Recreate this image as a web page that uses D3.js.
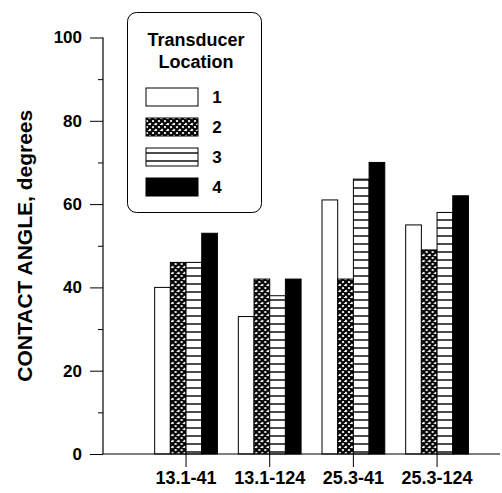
<!DOCTYPE html>
<html>
<head>
<meta charset="utf-8">
<script src="https://cdn.jsdelivr.net/npm/d3@7"></script>
<style>
  body { margin: 0; background: #fff; }
  svg text { font-family: "Liberation Sans", Arial, Helvetica, sans-serif; font-weight: bold; fill: #000; }
</style>
</head>
<body>
<div class="canvas"></div>
<script>
// chart values
const categories = ['13.1-41', '13.1-124', '25.3-41', '25.3-124'];
const locations = ['1', '2', '3', '4'];
const loc1 = [40, 33, 61, 55];
const loc2 = [46, 42, 42, 49];
const loc3 = [46, 38, 66, 58];
const loc4 = [53, 42, 70, 62];
const yTicks = [0, 20, 40, 60, 80, 100];
const yMinorTicks = [10, 30, 50, 70, 90];

const series = [loc1, loc2, loc3, loc4];

const width = 502, height = 493;
const svg = d3.select('.canvas')
  .append('svg')
    .attr('width', width)
    .attr('height', height);

// patterns for the four transducer locations
const defs = svg.append('defs');
const cross = defs.append('pattern')
  .attr('id', 'cross')
  .attr('patternUnits', 'userSpaceOnUse')
  .attr('width', 6).attr('height', 6);
cross.append('rect').attr('width', 6).attr('height', 6).attr('fill', '#fff');
cross.append('path')
  .attr('d', 'M0,0L6,6M6,0L0,6M-1,5L1,7M5,-1L7,1M-1,1L1,-1M5,7L7,5')
  .attr('stroke', '#000').attr('stroke-width', 2.2);

const hlines = defs.append('pattern')
  .attr('id', 'hlines')
  .attr('patternUnits', 'userSpaceOnUse')
  .attr('width', 8).attr('height', 8);
hlines.append('rect').attr('width', 8).attr('height', 8).attr('fill', '#fff');
hlines.append('line')
  .attr('x1', 0).attr('x2', 8).attr('y1', 4).attr('y2', 4)
  .attr('stroke', '#000').attr('stroke-width', 1.4);

const fills = ['#fff', 'url(#cross)', 'url(#hlines)', '#000'];

// scales
const y = d3.scaleLinear()
  .domain([0, 100])
  .range([454, 37.5]);

const x = d3.scaleBand()
  .domain(categories)
  .range([144.2, 478.9])
  .paddingInner(0.25)
  .paddingOuter(0.125);

const x1 = d3.scaleBand()
  .domain(locations)
  .range([0, x.bandwidth()]);

// bars
const groups = svg.append('g')
  .selectAll('g')
  .data(categories)
  .join('g')
    .attr('transform', d => `translate(${x(d)},0)`);

groups.selectAll('rect')
  .data((d, i) => series.map((s, j) => ({loc: locations[j], value: s[i], fill: fills[j]})))
  .join('rect')
    .attr('x', d => x1(d.loc))
    .attr('width', x1.bandwidth())
    .attr('y', d => y(d.value))
    .attr('height', d => y(0) - y(d.value))
    .attr('fill', d => d.fill)
    .attr('stroke', '#000')
    .attr('stroke-width', 1);

// y axis, major and minor ticks
const axisX = 103;
const yAxis = d3.axisLeft(y).tickValues(yTicks).tickSize(13).tickPadding(8);
const yAxisGroup = svg.append('g')
  .attr('transform', `translate(${axisX},0)`)
  .call(yAxis);
yAxisGroup.select('.domain').remove();
yAxisGroup.selectAll('text')
  .style('font-size', '17px')
  .style('font-family', '"Liberation Sans", Arial, sans-serif')
  .style('font-weight', 'bold');

svg.append('g')
  .attr('transform', `translate(${axisX},0)`)
  .call(d3.axisLeft(y).tickValues(yMinorTicks).tickSize(5).tickFormat(''))
  .select('.domain').remove();

svg.append('line')
  .attr('x1', axisX).attr('x2', axisX)
  .attr('y1', y(100)).attr('y2', y(0))
  .attr('stroke', '#000').attr('stroke-width', 1.2);

// x axis
const xAxis = d3.axisBottom(x).tickSize(13).tickPadding(4);
const xAxisGroup = svg.append('g')
  .attr('transform', `translate(0,${y(0)})`)
  .call(xAxis);
xAxisGroup.select('.domain').remove();
xAxisGroup.selectAll('text')
  .style('font-size', '18px')
  .style('font-family', '"Liberation Sans", Arial, sans-serif')
  .style('font-weight', 'bold');

svg.append('line')
  .attr('x1', axisX).attr('x2', 500)
  .attr('y1', y(0)).attr('y2', y(0))
  .attr('stroke', '#000').attr('stroke-width', 1.2);

// y axis title
svg.append('text')
  .attr('transform', `translate(32,${y(50)}) rotate(-90)`)
  .attr('text-anchor', 'middle')
  .style('font-size', '21px')
  .text('CONTACT ANGLE, degrees');

// legend
const legend = svg.append('g');
legend.append('rect')
  .attr('x', 127.5).attr('y', 12.5)
  .attr('width', 134).attr('height', 200)
  .attr('rx', 9)
  .attr('fill', '#fff')
  .attr('stroke', '#000')
  .attr('stroke-width', 1);

legend.append('text')
  .attr('x', 196).attr('y', 46)
  .attr('text-anchor', 'middle')
  .style('font-size', '18px')
  .text('Transducer');
legend.append('text')
  .attr('x', 196).attr('y', 68)
  .attr('text-anchor', 'middle')
  .style('font-size', '18px')
  .text('Location');

const ly = d3.scalePoint()
  .domain(locations)
  .range([97, 187]);

const items = legend.selectAll('g.item')
  .data(locations)
  .join('g')
    .attr('class', 'item')
    .attr('transform', d => `translate(0,${ly(d)})`);

items.append('rect')
  .attr('x', 146).attr('y', -9)
  .attr('width', 52).attr('height', 18)
  .attr('fill', (d, i) => fills[i])
  .attr('stroke', '#000')
  .attr('stroke-width', 1);

items.append('text')
  .attr('x', 217).attr('y', 6)
  .attr('text-anchor', 'middle')
  .style('font-size', '17px')
  .text(d => d);
</script>
</body>
</html>
